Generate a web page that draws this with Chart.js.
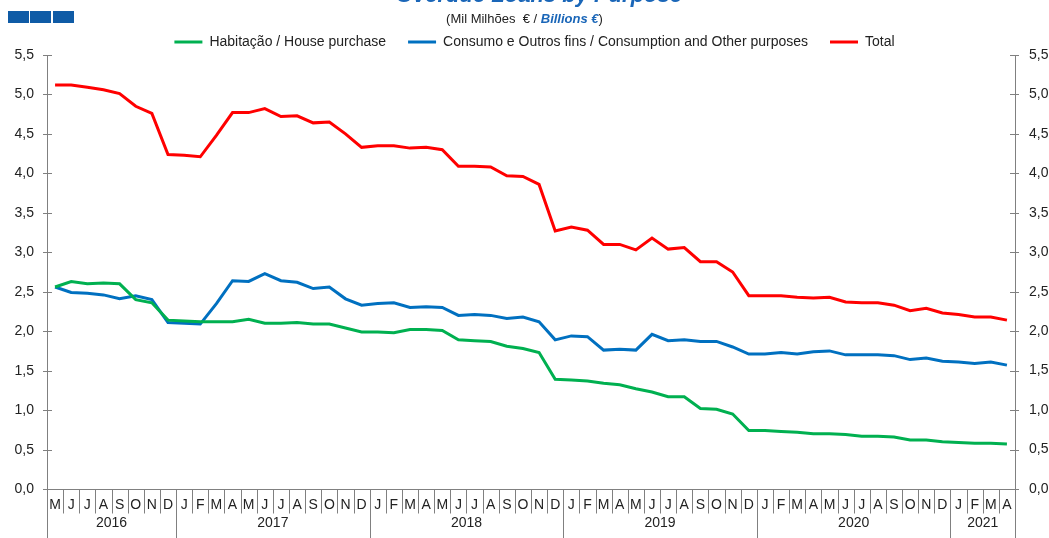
<!DOCTYPE html>
<html>
<head>
<meta charset="utf-8">
<script src="https://cdn.jsdelivr.net/npm/chart.js@4.4.1/dist/chart.umd.min.js"></script>
<style>
  body { margin: 0; background: #fff; font-family: "Liberation Sans", Arial, sans-serif; }
  #wrap { position: relative; width: 1049px; height: 538px; overflow: hidden; }
  .quad { position: absolute; top: 11px; width: 21px; height: 12px; background: #0f5ba6; }
  #titulo { position: absolute; left: 29px; width: 1020px; top: -16px; text-align: center;
            font-size: 22px; line-height: 22px; font-weight: bold; font-style: italic; color: #1a66b8; }
  #sub { position: absolute; left: 0; width: 1049px; top: 11px; text-align: center;
         font-size: 13px; line-height: 16px; color: #222; }
  #sub b { color: #1a66b8; font-style: italic; }
  canvas { position: absolute; left: 0; top: 0; }
</style>
</head>
<body>
<div id="wrap">
  <canvas id="grafico" width="1049" height="538"></canvas>
  <div class="quad" style="left:8px"></div>
  <div class="quad" style="left:30px"></div>
  <div class="quad" style="left:53px"></div>
  <div id="titulo">Overdue Loans by Purpose</div>
  <div id="sub">(Mil Milhões &nbsp;€ / <b>Billions €</b>)</div>
</div>
<script>
// meses de Maio 2016 a Abril 2021
const meses = ['M','J','J','A','S','O','N','D',
  'J','F','M','A','M','J','J','A','S','O','N','D',
  'J','F','M','A','M','J','J','A','S','O','N','D',
  'J','F','M','A','M','J','J','A','S','O','N','D',
  'J','F','M','A','M','J','J','A','S','O','N','D',
  'J','F','M','A'];
const anos = ['2016', '2017', '2018', '2019', '2020', '2021'];
const mesesPorAno = [8, 12, 12, 12, 12, 4];

const habitacao = [2.56, 2.63, 2.60, 2.61, 2.60, 2.40, 2.36, 2.14, 2.13, 2.12,
  2.12, 2.12, 2.15, 2.10, 2.10, 2.11, 2.09, 2.09, 2.04, 1.99,
  1.99, 1.98, 2.02, 2.02, 2.01, 1.89, 1.88, 1.87, 1.81, 1.78,
  1.73, 1.39, 1.38, 1.37, 1.34, 1.32, 1.27, 1.23, 1.17, 1.17,
  1.02, 1.01, 0.95, 0.74, 0.74, 0.73, 0.72, 0.70, 0.70, 0.69,
  0.67, 0.67, 0.66, 0.62, 0.62, 0.60, 0.59, 0.58, 0.58, 0.57];

const consumo = [2.56, 2.49, 2.48, 2.46, 2.41, 2.45, 2.40, 2.11, 2.10, 2.09,
  2.35, 2.64, 2.63, 2.73, 2.64, 2.62, 2.54, 2.56, 2.41, 2.33,
  2.35, 2.36, 2.30, 2.31, 2.30, 2.20, 2.21, 2.20, 2.16, 2.18,
  2.12, 1.89, 1.94, 1.93, 1.76, 1.77, 1.76, 1.96, 1.88, 1.89,
  1.87, 1.87, 1.80, 1.71, 1.71, 1.73, 1.71, 1.74, 1.75, 1.70,
  1.70, 1.70, 1.69, 1.64, 1.66, 1.62, 1.61, 1.59, 1.61, 1.57];

const total = [5.12, 5.12, 5.09, 5.06, 5.01, 4.85, 4.76, 4.24, 4.23, 4.21,
  4.48, 4.77, 4.77, 4.82, 4.72, 4.73, 4.64, 4.65, 4.50, 4.33,
  4.35, 4.35, 4.32, 4.33, 4.30, 4.09, 4.09, 4.08, 3.97, 3.96,
  3.86, 3.27, 3.32, 3.28, 3.10, 3.10, 3.03, 3.18, 3.04, 3.06,
  2.88, 2.88, 2.75, 2.45, 2.45, 2.45, 2.43, 2.42, 2.43, 2.37,
  2.36, 2.36, 2.33, 2.26, 2.29, 2.23, 2.21, 2.18, 2.18, 2.14];

Chart.defaults.font.family = '"Liberation Sans", Arial, sans-serif';
Chart.defaults.font.size = 14;
Chart.defaults.color = '#222';

const virgula = v => v.toFixed(1).replace('.', ',');

// eixos, separadores dos meses e anos, rotulos do eixo esquerdo
const eixos = {
  id: 'eixos',
  afterDraw(chart) {
    const { ctx, chartArea } = chart;
    const x = chart.scales.x, y = chart.scales.y;
    const passo = x.getPixelForValue(1) - x.getPixelForValue(0);
    const base = Math.round(chartArea.bottom) + 0.5;
    ctx.save();
    ctx.strokeStyle = '#808080';
    ctx.lineWidth = 1;
    ctx.beginPath();
    [chartArea.left, chartArea.right].forEach(px => {
      px = Math.round(px) + 0.5;
      ctx.moveTo(px, chartArea.top);
      ctx.lineTo(px, chart.height);
    });
    ctx.moveTo(chartArea.left, base);
    ctx.lineTo(chartArea.right, base);

    ctx.fillStyle = '#222';
    ctx.font = '14px "Liberation Sans", Arial, sans-serif';
    ctx.textAlign = 'right';
    ctx.textBaseline = 'middle';
    y.ticks.forEach(t => {
      const py = Math.round(y.getPixelForValue(t.value)) + 0.5;
      ctx.moveTo(chartArea.left - 4, py);
      ctx.lineTo(chartArea.left + 5, py);
      ctx.moveTo(chartArea.right - 5, py);
      ctx.lineTo(chartArea.right + 4, py);
      ctx.fillText(virgula(t.value), chartArea.left - 13, py);
    });
    for (let i = 1; i < meses.length; i++) {
      const px = Math.round(x.getPixelForValue(i) - passo / 2) + 0.5;
      ctx.moveTo(px, base);
      ctx.lineTo(px, base + 24);
    }
    let inicio = 0;
    ctx.textAlign = 'center';
    anos.forEach((ano, k) => {
      const fim = inicio + mesesPorAno[k];
      const esq = x.getPixelForValue(inicio) - passo / 2;
      const dir = x.getPixelForValue(fim - 1) + passo / 2;
      if (inicio > 0) {
        const px = Math.round(esq) + 0.5;
        ctx.moveTo(px, base);
        ctx.lineTo(px, chart.height);
      }
      ctx.fillText(ano, (esq + dir) / 2, 523);
      inicio = fim;
    });
    ctx.stroke();
    ctx.restore();
  }
};

new Chart(document.getElementById('grafico'), {
  type: 'line',
  data: {
    labels: meses,
    datasets: [{
      label: 'Habitação / House purchase',
      data: habitacao,
      borderColor: '#00b050',
      backgroundColor: '#00b050',
      borderWidth: 3
    }, {
      label: 'Consumo e Outros fins / Consumption and Other purposes',
      data: consumo,
      borderColor: '#0070c0',
      backgroundColor: '#0070c0',
      borderWidth: 3
    }, {
      label: 'Total',
      data: total,
      borderColor: '#ff0000',
      backgroundColor: '#ff0000',
      borderWidth: 3
    }]
  },
  options: {
    responsive: false,
    animation: false,
    layout: { padding: { top: 13, left: 20, right: 0, bottom: 0 } },
    elements: { point: { radius: 0 }, line: { tension: 0 } },
    plugins: {
      legend: {
        position: 'top',
        maxHeight: 42,
        labels: { usePointStyle: true, pointStyle: 'line', pointStyleWidth: 28, padding: 22 }
      },
      tooltip: { enabled: false }
    },
    scales: {
      x: {
        offset: true,
        ticks: { autoSkip: false, maxRotation: 0, padding: 8 },
        grid: { display: false, drawTicks: false },
        border: { display: false },
        afterFit: s => { s.height = 49; }
      },
      y: {
        position: 'left',
        min: 0, max: 5.5,
        ticks: { stepSize: 0.5, display: false },
        grid: { display: false, drawTicks: false },
        border: { display: false },
        afterFit: s => { s.width = 27; }
      },
      y2: {
        position: 'right',
        min: 0, max: 5.5,
        ticks: { stepSize: 0.5, padding: 14, callback: virgula },
        grid: { display: false, drawTicks: false },
        border: { display: false },
        afterFit: s => { s.width = 34; }
      }
    }
  },
  plugins: [eixos]
});
</script>
</body>
</html>
